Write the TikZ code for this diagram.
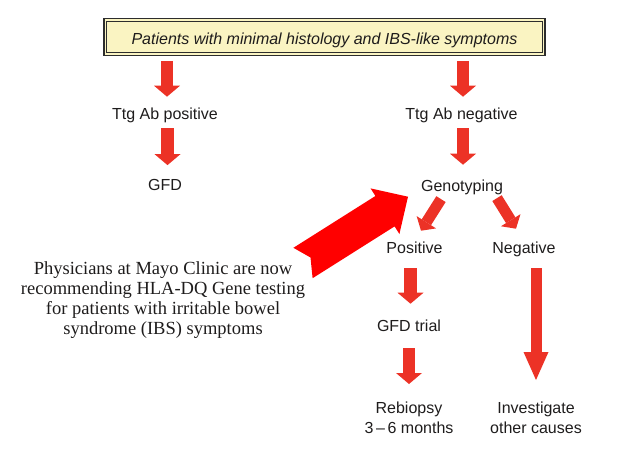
\documentclass[tikz,border=0pt]{standalone}
\usepackage{fontspec}
\setmainfont{Liberation Serif}
\setsansfont{Liberation Sans}
\usetikzlibrary{arrows.meta,calc}
\definecolor{arrred}{RGB}{236,50,38}
\definecolor{bigred}{RGB}{255,0,0}
\definecolor{boxfill}{RGB}{250,244,194}
\definecolor{boxline}{RGB}{45,45,45}
\definecolor{ink}{RGB}{30,28,28}
\begin{document}
\begin{tikzpicture}[x=1pt,y=-1pt,
  lbl/.style={anchor=base, inner sep=0pt, text=ink,
    font=\sffamily\fontsize{16}{20}\selectfont},
  lbl2/.style={lbl, anchor=north, align=center},
  blk/.style={draw=arrred, line width=12.5pt,
    -{Triangle[length=11pt 0 0,width=26pt 0 0,line width=0pt]}},
  dblk/.style={draw=arrred, line width=11pt,
    -{Triangle[length=10pt 0 0,width=23pt 0 0,line width=0pt]}},
  lblk/.style={draw=arrred, line width=11pt,
    -{Triangle[length=28pt 0 0,width=25pt 0 0,line width=0pt]}},
  note/.style={anchor=north, inner sep=0pt, align=center, text=ink,
    font=\rmfamily\fontsize{18.5}{19.7}\selectfont}
]
\useasboundingbox (0,0) rectangle (635,458);

% top box
\node (box) [draw=boxline, line width=1.8pt, fill=boxfill,
  minimum width=441pt, minimum height=37pt, inner sep=0pt, text=ink,
  font=\sffamily\itshape\fontsize{16}{18}\selectfont] at (324.5,37)
  {\raisebox{-7pt}[0pt][0pt]{Patients with minimal histology and IBS-like symptoms}};
\draw[boxline, line width=1pt]
  ([xshift=3.5pt,yshift=-3.5pt]box.north west) rectangle
  ([xshift=-3.5pt,yshift=3.5pt]box.south east);

% text nodes
\node[lbl] (tp)    at (165,119)   {Ttg Ab positive};
\node[lbl] (tn)    at (461.5,119) {Ttg Ab negative};
\node[lbl] (gfd)   at (165,190)   {GFD};
\node[lbl] (geno)  at (462,191)   {Genotyping};
\node[lbl] (pos)   at (414.5,253) {Positive};
\node[lbl] (neg)   at (524,253)   {Negative};
\node[lbl] (trial) at (409,331)   {GFD trial};
\node[lbl2] (rebi) at (409,401.5) {Rebiopsy\\3\,–\,6 months};
\node[lbl2] (inv)  at (536,401.5) {Investigate\\other causes};
\node[note] (txt)  at (163,261.9)
  {Physicians at Mayo Clinic are now\\recommending HLA-DQ Gene testing\\for patients with irritable bowel\\syndrome (IBS) symptoms};

% block arrows
\draw[blk] ($(box.south -| tp.south)+(2,4.5)$) -- ($(tp.north)+(2,-10.5)$);
\draw[blk] ($(box.south -| tn.south)+(1.5,4.5)$) -- ($(tn.north)+(1.5,-10.5)$);
\draw[blk] ($(tp.south)+(2.5,5.6)$) -- ($(gfd.north)+(2.5,-13.5)$);
\draw[blk] ($(tn.south)+(1.5,5.6)$) -- ($(geno.north)+(1,-14.5)$);
\draw[dblk] ($(geno.south)+(-21,4.6)$) -- ($(pos.north)+(6.5,-10.5)$);
\draw[dblk] ($(geno.south)+(35,3.6)$) -- ($(neg.north)+(-8,-12.5)$);
\draw[blk] ($(pos.south)+(-4,15)$) -- ($(trial.north)+(1.5,-15.5)$);
\draw[blk] ($(trial.south)+(0,17)$) -- ($(rebi.north)+(0,-17.5)$);
\draw[lblk] ($(neg.south)+(12,11.6)$) -- ($(inv.north)+(0,-21.5)$);

% big arrow from the note towards Genotyping
\fill[bigred] (293.4,247.8) -- (375.4,196) -- (370.6,188.4) -- (408,196.7)
  -- (399.4,234) -- (394.6,226.4) -- (312.6,278.2) -- (310.5,257.5) -- cycle;
\end{tikzpicture}
\end{document}
